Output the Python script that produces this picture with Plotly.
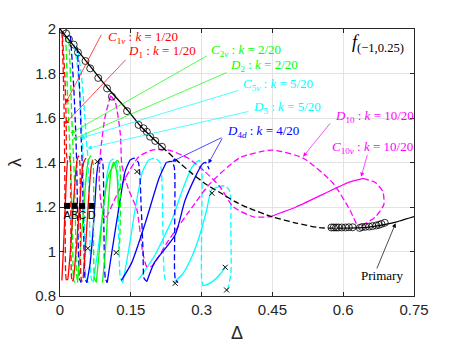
import plotly.graph_objects as go

# primary branch (black)
primary_solid_a = [(0.0, 2.0), (0.05, 1.87), (0.1, 1.737), (0.144, 1.633), (0.17, 1.565),
                   (0.2, 1.502), (0.216, 1.471)]
primary_dashed = [(0.216, 1.471), (0.254, 1.397), (0.28, 1.35), (0.311, 1.30), (0.339, 1.265),
                  (0.37, 1.225), (0.4, 1.195), (0.45, 1.156), (0.5, 1.128), (0.55, 1.107),
                  (0.6, 1.105)]
primary_solid_b = [(0.6, 1.105), (0.65, 1.108), (0.7, 1.126), (0.75, 1.157)]

circles_x = [0.006, 0.013, 0.019, 0.029, 0.038, 0.054, 0.064, 0.081, 0.0997, 0.110, 0.142,
             0.1665, 0.177, 0.184, 0.191, 0.2018, 0.216,
             0.575, 0.58, 0.585, 0.59, 0.597, 0.605, 0.612, 0.62, 0.635, 0.64, 0.647,
             0.655, 0.662, 0.67, 0.676, 0.681, 0.688]
circles_y = [1.995, 1.98, 1.954, 1.93, 1.895, 1.856, 1.823, 1.78, 1.733, 1.696, 1.631,
             1.569, 1.554, 1.538, 1.516, 1.497, 1.471,
             1.108, 1.108, 1.108, 1.108, 1.108, 1.108, 1.109, 1.109, 1.106, 1.11, 1.111,
             1.112, 1.114, 1.117, 1.12, 1.124, 1.129]

# red family (C1v, D1)
red_dashed = [
    [(0.004, 1.99), (0.007, 1.8), (0.009, 1.6), (0.010, 1.4), (0.011, 1.1), (0.012, 0.9), (0.014, 0.865), (0.017, 0.88)],
    [(0.005, 1.97), (0.010, 1.8), (0.013, 1.6), (0.015, 1.42), (0.019, 1.43), (0.022, 1.40), (0.023, 1.1), (0.024, 0.9), (0.026, 0.865), (0.029, 0.88)],
    [(0.036, 1.41), (0.039, 1.43), (0.042, 1.40), (0.043, 1.1), (0.044, 0.9), (0.046, 0.865), (0.049, 0.88)],
]
red_solid = [
    [(0.004, 0.87), (0.007, 1.0), (0.011, 1.2), (0.014, 1.35), (0.016, 1.41)],
    [(0.017, 0.88), (0.022, 1.0), (0.028, 1.2), (0.033, 1.35), (0.036, 1.41)],
    [(0.029, 0.88), (0.036, 1.05), (0.043, 1.25), (0.048, 1.38), (0.052, 1.41), (0.055, 1.42)],
    [(0.049, 0.88), (0.055, 1.05), (0.061, 1.25), (0.066, 1.38), (0.069, 1.41)],
]

# green family (C2v, D2)
green_dashed = [
    [(0.012, 1.97), (0.014, 1.85), (0.016, 1.7), (0.019, 1.55), (0.022, 1.42), (0.025, 1.2), (0.027, 1.0), (0.029, 0.87), (0.032, 0.86)],
    [(0.019, 1.95), (0.022, 1.8), (0.025, 1.6), (0.028, 1.45), (0.031, 1.30), (0.033, 1.1), (0.035, 0.9), (0.037, 0.86)],
    [(0.060, 1.41), (0.065, 1.43), (0.070, 1.40), (0.071, 1.1), (0.073, 0.88), (0.077, 0.86)],
    [(0.117, 1.40), (0.122, 1.41), (0.127, 1.38), (0.128, 1.2), (0.124, 1.0), (0.119, 0.995)],
]
green_solid = [
    [(0.037, 0.86), (0.043, 1.0), (0.051, 1.22), (0.057, 1.37), (0.060, 1.41)],
    [(0.077, 0.86), (0.083, 1.0), (0.093, 1.22), (0.104, 1.35), (0.117, 1.40)],
    [(0.090, 0.86), (0.096, 1.0), (0.102, 1.2), (0.108, 1.36), (0.114, 1.40), (0.120, 1.36), (0.124, 1.2)],
]

# blue family (D4d)
blue_dashed = [
    [(0.022, 1.97), (0.026, 1.85), (0.030, 1.7), (0.033, 1.55), (0.035, 1.42), (0.037, 1.2), (0.039, 1.0), (0.041, 0.88), (0.045, 0.86)],
    [(0.036, 1.92), (0.040, 1.8), (0.043, 1.65), (0.045, 1.5), (0.047, 1.4), (0.049, 1.2), (0.051, 1.0), (0.053, 0.88), (0.057, 0.86)],
    [(0.082, 1.41), (0.087, 1.42), (0.091, 1.39), (0.093, 1.1), (0.096, 0.88), (0.100, 0.86)],
    [(0.148, 1.41), (0.157, 1.42), (0.166, 1.40), (0.172, 1.2), (0.176, 1.0), (0.178, 0.88), (0.184, 0.865)],
    [(0.225, 1.40), (0.236, 1.405), (0.242, 1.38), (0.243, 1.1), (0.244, 0.88), (0.25, 0.86)],
    [(0.300, 1.39), (0.308, 1.40), (0.316, 1.37)],
]
blue_solid = [
    [(0.057, 0.86), (0.064, 0.95), (0.072, 1.15), (0.078, 1.35), (0.082, 1.41)],
    [(0.100, 0.86), (0.110, 1.0), (0.125, 1.2), (0.138, 1.36), (0.148, 1.41)],
    [(0.130, 0.87), (0.152, 0.95), (0.181, 1.13), (0.21, 1.33), (0.225, 1.40)],
    [(0.184, 0.865), (0.2, 0.95), (0.244, 1.074), (0.265, 1.23), (0.29, 1.35), (0.30, 1.39)],
]

# cyan family (C5v, D5)
cyan_dashed = [
    [(0.030, 1.93), (0.036, 1.85), (0.042, 1.7), (0.046, 1.55), (0.049, 1.42), (0.051, 1.2), (0.053, 1.0), (0.055, 0.88), (0.060, 0.86)],
    [(0.038, 1.90), (0.045, 1.8), (0.051, 1.65), (0.056, 1.5), (0.060, 1.4), (0.062, 1.2), (0.064, 1.0), (0.066, 0.88), (0.070, 0.86)],
    [(0.105, 1.40), (0.112, 1.415), (0.120, 1.40), (0.124, 1.1), (0.128, 0.88), (0.133, 0.86)],
    [(0.187, 1.41), (0.200, 1.42), (0.212, 1.40), (0.218, 1.1), (0.222, 0.88), (0.228, 0.86)],
    [(0.288, 1.40), (0.295, 1.41), (0.300, 1.38), (0.300, 1.1), (0.300, 0.88), (0.303, 0.845)],
    [(0.335, 1.29), (0.350, 1.295), (0.360, 1.27), (0.362, 1.1), (0.362, 0.9), (0.355, 0.827)],
]
cyan_solid = [
    [(0.070, 0.86), (0.080, 1.0), (0.092, 1.2), (0.100, 1.35), (0.105, 1.40)],
    [(0.133, 0.86), (0.145, 1.0), (0.160, 1.2), (0.175, 1.36), (0.187, 1.41)],
    [(0.166, 0.872), (0.2, 0.98), (0.237, 1.142), (0.26, 1.28), (0.28, 1.38), (0.288, 1.40)],
    [(0.240, 0.86), (0.260, 0.90), (0.280, 0.98), (0.297, 1.08), (0.310, 1.18), (0.321, 1.276), (0.335, 1.29)],
    [(0.303, 0.845), (0.320, 0.86), (0.340, 0.90), (0.350, 0.929)],
]

# magenta family (D10, C10v)
magenta_dashed = [
    [(0.107, 1.70), (0.095, 1.6), (0.086, 1.45), (0.083, 1.32), (0.088, 1.2), (0.096, 1.149),
     (0.115, 1.23), (0.138, 1.329), (0.167, 1.426), (0.195, 1.456), (0.23, 1.456), (0.272, 1.419),
     (0.307, 1.359), (0.339, 1.291), (0.367, 1.201), (0.41, 1.156), (0.445, 1.156)],
    [(0.107, 1.70), (0.117, 1.673), (0.128, 1.524), (0.131, 1.389), (0.145, 1.28), (0.163, 1.187),
     (0.175, 1.0), (0.184, 0.932), (0.195, 0.935), (0.23, 1.05), (0.286, 1.217), (0.318, 1.306),
     (0.38, 1.42), (0.448, 1.456), (0.515, 1.42), (0.578, 1.308), (0.614, 1.187), (0.631, 1.11)],
    [(0.642, 1.329), (0.668, 1.31), (0.684, 1.27), (0.686, 1.21), (0.668, 1.155), (0.646, 1.124), (0.635, 1.106)],
]
magenta_solid = [
    [(0.445, 1.156), (0.5, 1.2), (0.56, 1.26), (0.61, 1.31), (0.642, 1.329)],
]

cross_x = [0.059, 0.079, 0.119, 0.163, 0.244, 0.322, 0.350, 0.353]
cross_y = [1.014, 1.404, 0.995, 1.359, 0.857, 1.262, 0.929, 0.827]

point_labels = ["A", "B", "C", "D"]
point_x = [0.015, 0.031, 0.047, 0.067]
point_y = [1.205, 1.205, 1.205, 1.205]

# labels: text, colour, text position, arrow tail, arrow head(s)
labels = [
    ("<i>C</i><sub>1<i>v</i></sub> : <i>k</i> = 1/20", "#ff0000", (0.0983, 1.963), (0.0892, 1.981), [(0.0116, 1.666)]),
    ("<i>D</i><sub>1</sub> : <i>k</i> = 1/20", "#ff0000", (0.1405, 1.898), (0.142, 1.868), [(0.0101, 1.573)]),
    ("<i>C</i><sub>2<i>v</i></sub> : <i>k</i> = 2/20", "#00ff00", (0.3165, 1.902), (0.3144, 1.883), [(0.0222, 1.531)]),
    ("<i>D</i><sub>2</sub> : <i>k</i> = 2/20", "#00ff00", (0.3566, 1.835), (0.356, 1.807), [(0.027, 1.504)]),
    ("<i>C</i><sub>5<i>v</i></sub> : <i>k</i> = 5/20", "#00ffff", (0.3828, 1.751), (0.3814, 1.726), [(0.0433, 1.509)]),
    ("<i>D</i><sub>5</sub> : <i>k</i> = 5/20", "#00ffff", (0.404, 1.648), (0.4025, 1.631), [(0.0587, 1.464)]),
    ("<i>D</i><sub>4<i>d</i></sub> : <i>k</i> = 4/20", "#0000ff", (0.3497, 1.538), (0.3454, 1.515), [(0.237, 1.404), (0.3144, 1.396)]),
    ("<i>D</i><sub>10</sub> : <i>k</i> = 10/20", "#ff00ff", (0.5785, 1.606), (0.575, 1.583), [(0.515, 1.426)]),
    ("<i>C</i><sub>10<i>v</i></sub> : <i>k</i> = 10/20", "#ff00ff", (0.5715, 1.468), (0.652, 1.441), [(0.638, 1.336)]),
    ("Primary", "#000000", (0.6334, 0.8944), (0.670, 0.917), [(0.711, 1.127)]),
]

DASH = "6px,3px"
LW = 1.3
SERIF = "Liberation Serif, DejaVu Serif, serif"
SANS = "Liberation Sans, Arial"


def flatten(segments):
    xs, ys = [], []
    for seg in segments:
        for x, y in seg:
            xs.append(x)
            ys.append(y)
        xs.append(None)
        ys.append(None)
    return xs, ys


def add_lines(fig, segments, color, dash):
    xs, ys = flatten(segments)
    fig.add_trace(go.Scatter(x=xs, y=ys, mode="lines", connectgaps=False, hoverinfo="skip",
                             line=dict(color=color, width=LW, dash=dash, shape="spline", smoothing=0.6)))


fig = go.Figure()

families = [
    (cyan_dashed, cyan_solid, "#00ffff"),
    (magenta_dashed, magenta_solid, "#ff00ff"),
    (blue_dashed, blue_solid, "#0000ff"),
    (green_dashed, green_solid, "#00ff00"),
    (red_dashed, red_solid, "#ff0000"),
]
for dashed, solid, color in families:
    add_lines(fig, dashed, color, DASH)
    add_lines(fig, solid, color, "solid")

add_lines(fig, [primary_solid_a, primary_solid_b], "#000000", "solid")
add_lines(fig, [primary_dashed], "#000000", DASH)

fig.add_trace(go.Scatter(x=circles_x, y=circles_y, mode="markers", hoverinfo="skip",
                         marker=dict(symbol="circle-open", size=7, color="#000000", line=dict(width=0.8))))
fig.add_trace(go.Scatter(x=cross_x, y=cross_y, mode="markers", hoverinfo="skip",
                         marker=dict(symbol="x-thin", size=5, color="#000000", line=dict(width=1, color="#000000"))))
fig.add_trace(go.Scatter(x=point_x, y=point_y, mode="markers+text", text=point_labels,
                         textposition="bottom center", hoverinfo="skip",
                         textfont=dict(family=SANS, size=11, color="#000000"),
                         marker=dict(symbol="square", size=6, color="#000000")))

for text, color, (tx, ty), (ax, ay), heads in labels:
    fig.add_annotation(x=tx, y=ty, xref="x", yref="y", text=text, showarrow=False,
                       xanchor="left", yanchor="middle",
                       font=dict(family=SERIF, size=13, color=color))
    for hx, hy in heads:
        fig.add_annotation(x=hx, y=hy, ax=ax, ay=ay, xref="x", yref="y", axref="x", ayref="y",
                           text="", showarrow=True, arrowhead=2, arrowsize=1.2, arrowwidth=0.7,
                           arrowcolor=color)

fig.add_annotation(x=0.6138, y=1.936, xref="x", yref="y", showarrow=False, xanchor="left",
                   text="<i>f</i><sub>(\u22121,0.25)</sub>",
                   font=dict(family=SERIF, size=18, color="#000000"))

axis_common = dict(showgrid=True, gridcolor="#e3e3e3", gridwidth=1, zeroline=False,
                   showline=True, linecolor="#262626", linewidth=1, mirror="ticks",
                   ticks="inside", ticklen=4, tickcolor="#262626", automargin=False,
                   tickfont=dict(family=SANS, size=15, color="#262626"))

fig.update_xaxes(range=[0, 0.75], tickvals=[0, 0.15, 0.3, 0.45, 0.6, 0.75],
                 ticktext=["0", "0.15", "0.3", "0.45", "0.6", "0.75"],
                 title=dict(text="\u0394", font=dict(family=SANS, size=18, color="#262626"),
                            standoff=10), **axis_common)
fig.update_yaxes(range=[0.8, 2.0], tickvals=[0.8, 1, 1.2, 1.4, 1.6, 1.8, 2],
                 ticktext=["0.8", "1", "1.2", "1.4", "1.6", "1.8", "2"],
                 title=dict(text="\u03bb", font=dict(family=SANS, size=18, color="#262626"),
                            standoff=8), **axis_common)

fig.update_layout(width=457, height=343, showlegend=False,
                  margin=dict(l=60, r=43, t=29, b=47),
                  paper_bgcolor="#ffffff", plot_bgcolor="#ffffff")

# drop the page's default body margin so the figure sits at the window corner
fig.write_html("out.html", config={"displayModeBar": False},
               post_script="document.body.style.margin='0';document.body.style.overflow='hidden';")
